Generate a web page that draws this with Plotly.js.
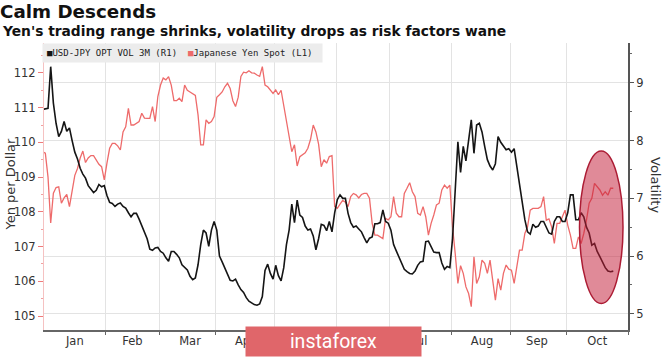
<!DOCTYPE html>
<html><head><meta charset="utf-8">
<script src="https://cdn.plot.ly/plotly-3.0.1.min.js"></script>
<style>html,body{margin:0;padding:0;background:#fff}#chart{width:665px;height:358px}</style>
</head><body><div id="chart"></div>
<script>
// Business days (Bloomberg daily series), Dec 31 2018 .. Oct 24 2019
const dates = [
'2018-12-31',
'2019-01-01','2019-01-02','2019-01-03','2019-01-04','2019-01-07','2019-01-08','2019-01-09','2019-01-10','2019-01-11','2019-01-14','2019-01-15','2019-01-16','2019-01-17','2019-01-18','2019-01-21','2019-01-22','2019-01-23','2019-01-24','2019-01-25','2019-01-28','2019-01-29','2019-01-30','2019-01-31',
'2019-02-01','2019-02-04','2019-02-05','2019-02-06','2019-02-07','2019-02-08','2019-02-11','2019-02-12','2019-02-13','2019-02-14','2019-02-15','2019-02-18','2019-02-19','2019-02-20','2019-02-21','2019-02-22','2019-02-25','2019-02-26','2019-02-27','2019-02-28',
'2019-03-01','2019-03-04','2019-03-05','2019-03-06','2019-03-07','2019-03-08','2019-03-11','2019-03-12','2019-03-13','2019-03-14','2019-03-15','2019-03-18','2019-03-19','2019-03-20','2019-03-21','2019-03-22','2019-03-25','2019-03-26','2019-03-27','2019-03-28','2019-03-29',
'2019-04-01','2019-04-02','2019-04-03','2019-04-04','2019-04-05','2019-04-08','2019-04-09','2019-04-10','2019-04-11','2019-04-12','2019-04-15','2019-04-16','2019-04-17','2019-04-18','2019-04-19','2019-04-22','2019-04-23','2019-04-24','2019-04-25','2019-04-26','2019-04-29','2019-04-30',
'2019-05-01','2019-05-02','2019-05-03','2019-05-06','2019-05-07','2019-05-08','2019-05-09','2019-05-10','2019-05-13','2019-05-14','2019-05-15','2019-05-16','2019-05-17','2019-05-20','2019-05-21','2019-05-22','2019-05-23','2019-05-24','2019-05-27','2019-05-28','2019-05-29','2019-05-30','2019-05-31',
'2019-06-03','2019-06-04','2019-06-05','2019-06-06','2019-06-07','2019-06-10','2019-06-11','2019-06-12','2019-06-13','2019-06-14','2019-06-17','2019-06-18','2019-06-19','2019-06-20','2019-06-21','2019-06-24','2019-06-25','2019-06-26','2019-06-27','2019-06-28',
'2019-07-01','2019-07-02','2019-07-03','2019-07-04','2019-07-05','2019-07-08','2019-07-09','2019-07-10','2019-07-11','2019-07-12','2019-07-15','2019-07-16','2019-07-17','2019-07-18','2019-07-19','2019-07-22','2019-07-23','2019-07-24','2019-07-25','2019-07-26','2019-07-29','2019-07-30','2019-07-31',
'2019-08-01','2019-08-02','2019-08-05','2019-08-06','2019-08-07','2019-08-08','2019-08-09','2019-08-12','2019-08-13','2019-08-14','2019-08-15','2019-08-16','2019-08-19','2019-08-20','2019-08-21','2019-08-22','2019-08-23','2019-08-26','2019-08-27','2019-08-28','2019-08-29','2019-08-30',
'2019-09-02','2019-09-03','2019-09-04','2019-09-05','2019-09-06','2019-09-09','2019-09-10','2019-09-11','2019-09-12','2019-09-13','2019-09-16','2019-09-17','2019-09-18','2019-09-19','2019-09-20','2019-09-23','2019-09-24','2019-09-25','2019-09-26','2019-09-27','2019-09-30',
'2019-10-01','2019-10-02','2019-10-03','2019-10-04','2019-10-07','2019-10-08','2019-10-09','2019-10-10','2019-10-11','2019-10-14','2019-10-15','2019-10-16','2019-10-17','2019-10-18','2019-10-21','2019-10-22','2019-10-23','2019-10-24'
];

// Japanese Yen Spot (left axis, yen per dollar)
const yenSpot = [
109.73,
109.69,109.0,107.68,108.54,108.7,108.72,108.25,108.4,108.5,108.15,108.6,109.05,109.25,109.55,109.75,109.42,109.55,109.62,109.62,109.5,109.37,109.3,108.92,
109.4,109.83,109.97,109.97,109.9,109.78,110.3,110.45,110.98,110.5,110.5,110.55,110.6,110.84,110.7,110.69,110.69,111.03,110.6,111.32,
111.65,111.85,111.8,111.89,111.65,111.2,111.2,111.27,111.17,111.65,111.5,111.45,111.4,111.35,110.79,109.93,109.93,110.65,110.55,110.6,110.74,
111.3,111.37,111.45,111.6,111.7,111.55,111.2,111.03,111.3,111.9,112.02,112.0,112.06,112.0,111.99,111.94,111.9,112.18,111.65,111.6,111.5,111.41,
111.51,111.37,111.5,111.08,110.65,110.21,109.73,109.93,109.32,109.59,109.64,109.7,109.83,110.09,110.5,110.3,109.95,109.3,109.5,109.4,109.59,109.62,108.15,
108.1,108.22,108.33,108.28,108.15,108.44,108.53,108.49,108.4,108.5,108.53,108.53,108.39,107.67,107.33,107.33,107.28,107.23,107.81,107.77,
107.86,108.44,107.96,107.86,107.86,108.53,108.68,108.84,108.58,108.44,107.96,107.91,108.15,107.86,107.33,107.67,107.91,108.2,108.25,108.63,108.77,108.68,108.77,
107.57,106.8,105.94,106.45,106.23,105.84,105.65,105.27,106.71,105.94,106.13,106.61,106.52,106.23,106.61,106.03,105.46,106.08,105.75,106.23,106.47,106.35,
106.32,105.94,106.42,106.9,106.9,107.38,107.57,108.05,108.1,108.1,108.1,108.15,108.44,107.76,107.8,107.57,107.09,107.67,107.67,107.86,108.05,
107.62,107.33,106.95,106.95,107.28,107.09,107.38,107.76,108.25,108.39,108.82,108.72,108.63,108.48,108.58,108.48,108.68,108.68
];

// USD-JPY 3M option implied volatility (right axis)
const optVol3m = [
8.54,
8.55,8.56,9.28,8.65,8.3,8.07,8.16,8.33,8.16,8.22,8.0,7.8,7.68,7.52,7.42,7.35,7.22,7.16,7.1,7.14,7.24,7.2,7.22,
7.05,6.93,6.91,6.86,6.9,6.92,6.86,6.83,6.75,6.68,6.74,6.74,6.64,6.52,6.41,6.3,6.12,6.1,6.14,6.15,
6.08,6.05,5.97,5.91,6.08,6.08,6.03,5.97,5.85,5.8,5.76,5.65,5.59,5.62,5.85,6.2,6.45,6.4,6.17,6.45,6.6,
6.45,6.0,5.9,5.8,5.68,5.58,5.57,5.6,5.5,5.42,5.37,5.28,5.22,5.19,5.16,5.15,5.17,5.3,5.75,5.86,5.7,5.6,
5.84,5.66,5.57,5.8,6.2,6.45,6.9,6.58,6.97,6.71,6.67,6.52,6.45,6.47,6.35,6.11,6.3,6.55,6.53,6.44,6.6,6.42,6.75,
6.98,7.06,7.0,7.0,6.74,6.58,6.5,6.52,6.47,6.42,6.32,6.23,6.31,6.33,6.56,6.56,6.58,6.8,6.6,6.57,
6.45,6.2,6.09,5.99,5.86,5.77,5.73,5.7,5.69,5.74,5.84,5.9,5.91,6.25,6.26,6.15,6.07,6.06,6.06,5.88,5.77,5.82,5.8,
6.3,7.1,7.98,7.45,7.9,7.65,8.0,8.36,7.78,8.27,8.3,8.15,7.9,7.67,7.56,7.49,7.6,8.07,7.97,7.9,7.84,7.86,
7.8,7.86,7.55,7.2,6.92,6.63,6.42,6.38,6.55,6.5,6.52,6.6,6.6,6.5,6.4,6.38,6.6,6.68,6.68,6.6,6.6,
6.75,7.06,7.06,6.63,6.63,6.75,6.68,6.5,6.4,6.19,6.22,6.08,5.99,5.88,5.8,5.74,5.73,5.74
];

const seriesNames = ['USD-JPY OPT VOL 3M (R1)', 'Japanese Yen Spot (L1)'];
const yenTicks = [105, 106, 107, 108, 109, 110, 111, 112];
const volTicks = [5, 6, 7, 8, 9];

const RED = '#ee6b6b';
const BLACK = '#151515';
const DAY = 86400000;
const TXT = '"DejaVu Sans", Verdana, sans-serif';

const traces = [
  {
    type: 'scatter', mode: 'lines', name: seriesNames[1],
    x: dates, y: yenSpot, yaxis: 'y',
    xperiod: DAY, xperiodalignment: 'middle',
    line: {color: RED, width: 1.3}, showlegend: false, hoverinfo: 'skip'
  },
  {
    type: 'scatter', mode: 'lines', name: seriesNames[0],
    x: dates, y: optVol3m, yaxis: 'y2',
    xperiod: DAY, xperiodalignment: 'middle',
    line: {color: BLACK, width: 1.6}, showlegend: false, hoverinfo: 'skip'
  }
];

const W = 665, H = 358, ML = 44, MR = 37, MT = 43, MB = 28;
const PW = W - ML - MR, PH = H - MT - MB;
const px = x => (x - ML) / PW;            // pixel -> paper x
const py = y => (H - MB - y) / PH;        // pixel -> paper y

const layout = {
  width: W, height: H,
  margin: {l: ML, r: MR, t: MT, b: MB, pad: 0},
  paper_bgcolor: '#fff', plot_bgcolor: '#fff',
  font: {family: TXT, color: '#333'},
  title: {
    text: '<b>Calm Descends</b>',
    x: 0.0, xanchor: 'left', xref: 'container',
    y: 1 - 11.5 / H, yanchor: 'middle', yref: 'container',
    font: {family: TXT, size: 18.3, color: '#111'}
  },
  xaxis: {
    type: 'date',
    range: ['2019-01-01', '2019-11-01'],
    rangebreaks: [{bounds: ['sat', 'mon']}],
    tick0: '2019-01-01', dtick: 'M1',
    ticklabelmode: 'period', tickformat: '%b',
    ticks: 'outside', ticklen: 3, tickcolor: '#666', tickwidth: 1,
    ticklabelstandoff: -3,
    showline: true, linecolor: '#666', linewidth: 1.5,
    showgrid: true, gridcolor: '#e3e3e3', gridwidth: 1,
    zeroline: false,
    tickfont: {family: TXT, size: 11.5, color: '#333'}
  },
  yaxis: {
    range: [104.6, 112.86],
    tickmode: 'array', tickvals: yenTicks, ticktext: yenTicks.map(String),
    ticks: 'outside', ticklen: 5, tickcolor: '#ef7b7b', tickwidth: 1,
    showline: true, linecolor: '#f5c2c2', linewidth: 1,
    showgrid: false, zeroline: false,
    minor: {tick0: 0, dtick: 0.5, ticks: 'outside', ticklen: 2, tickcolor: '#f2a0a0', showgrid: false},
    tickfont: {family: TXT, size: 11.5, color: '#333'}
  },
  yaxis2: {
    overlaying: 'y', side: 'right',
    range: [4.72, 9.69],
    tickmode: 'array', tickvals: volTicks, ticktext: volTicks.map(String),
    ticks: 'outside', ticklen: 4, tickcolor: '#555', tickwidth: 1,
    showline: true, linecolor: '#555', linewidth: 2,
    showgrid: true, gridcolor: '#e3e3e3', gridwidth: 1, zeroline: false,
    minor: {tick0: 0, dtick: 0.5, ticks: 'outside', ticklen: 2, tickcolor: '#666', showgrid: false},
    tickfont: {family: TXT, size: 11.5, color: '#333'}
  },
  shapes: [
    {
      type: 'circle', xref: 'paper', yref: 'paper', layer: 'above',
      x0: px(579.5), x1: px(623), y0: py(303.5), y1: py(151),
      fillcolor: 'rgba(196,30,58,0.52)',
      line: {color: 'rgb(172,28,52)', width: 1.5}
    }
  ],
  annotations: [
    {
      text: '<b>Yen\'s trading range shrinks, volatility drops as risk factors wane</b>',
      xref: 'paper', yref: 'paper', x: px(0), y: py(30.5),
      xanchor: 'left', yanchor: 'middle', showarrow: false,
      font: {family: TXT, size: 13.8, color: '#111'}
    },
    {
      text: '<span style="color:' + BLACK + '">■</span>' + seriesNames[0] +
            '  <span style="color:' + RED + '">■</span>' + seriesNames[1] + ' ',
      xref: 'paper', yref: 'paper', x: px(42), y: py(43),
      xanchor: 'left', yanchor: 'top', showarrow: false,
      bgcolor: '#ececec', borderpad: 4,
      font: {family: '"DejaVu Sans Mono", monospace', size: 9, color: '#222'}
    },
    {
      text: 'Yen per Dollar', textangle: -90,
      xref: 'paper', yref: 'paper', x: px(10), y: py(184.5),
      xanchor: 'center', yanchor: 'middle', showarrow: false,
      font: {family: TXT, size: 13, color: '#333'}
    },
    {
      text: 'Volatility', textangle: 90,
      xref: 'paper', yref: 'paper', x: px(656), y: py(185),
      xanchor: 'center', yanchor: 'middle', showarrow: false,
      font: {family: TXT, size: 13, color: '#333'}
    },
    {
      text: 'instaforex',
      xref: 'paper', yref: 'paper', x: px(333.5), y: py(341.5),
      xanchor: 'center', yanchor: 'middle', showarrow: false,
      width: 173, height: 27, bgcolor: '#e0666a', borderpad: 1,
      font: {family: 'Roboto, sans-serif', size: 19.5, color: '#ffffff'}
    }
  ]
};

Plotly.newPlot('chart', traces, layout, {staticPlot: true, displayModeBar: false});
</script>
</body></html>
